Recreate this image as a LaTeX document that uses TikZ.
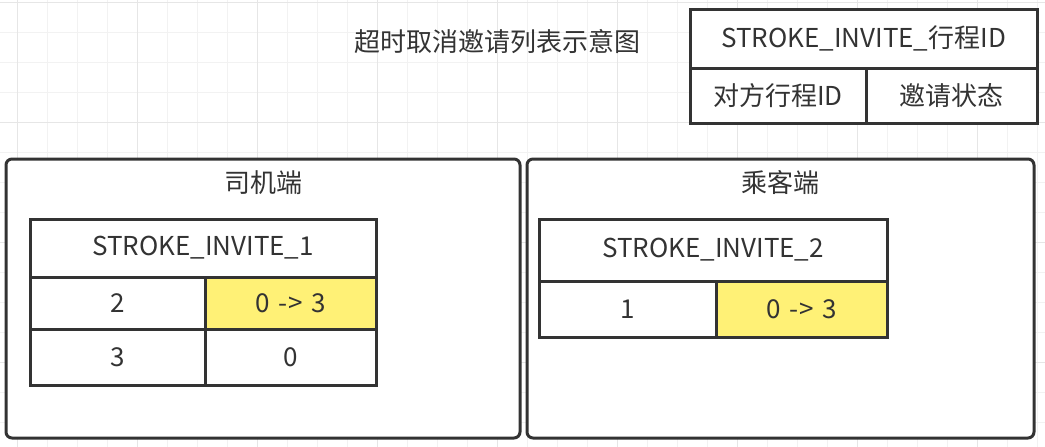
\documentclass[tikz,border=0pt]{standalone}
\usepackage{fontspec}
\setmainfont{Noto Sans CJK SC}
\definecolor{ink}{HTML}{333333}
\definecolor{hl}{HTML}{FFF176}
\definecolor{gridminor}{HTML}{F2F2F2}
\definecolor{gridmajor}{HTML}{E6E6E6}
\newcommand{\arrowtext}{0\hspace{0.32em}-\hspace{0.05em}>\hspace{0.32em}3}
\tikzset{
  cell/.style={draw=ink, line width=3pt, fill=white, inner sep=0pt, text=ink,
    font=\fontsize{26}{30}\selectfont},
  hlcell/.style={cell, fill=hl},
  container/.style={draw=ink, line width=3pt, fill=white, rounded corners=6pt},
  label/.style={text=ink, font=\fontsize{26}{30}\selectfont, inner sep=0pt},
}
\begin{document}
\begin{tikzpicture}[x=1pt,y=-1pt]
\useasboundingbox (0,0) rectangle (1045,447);
\fill[white] (0,0) rectangle (1045,447);
% grid
\foreach \x in {17,47,...,1045} \draw[gridminor, line width=1pt] (\x,0) -- (\x,447);
\foreach \y in {2,32,...,447} \draw[gridminor, line width=1pt] (0,\y) -- (1045,\y);
\foreach \x in {17,137,...,1045} \draw[gridmajor, line width=1pt] (\x,0) -- (\x,447);
\foreach \y in {2,122,...,447} \draw[gridmajor, line width=1pt] (0,\y) -- (1045,\y);
% title
\node[label] (title) at (497,42) {超时取消邀请列表示意图};
% legend table
\node[cell, minimum width=347pt, minimum height=59pt] (lh) at (863.5,38.5) {STROKE\_INVITE\_行程ID};
\node[cell, minimum width=176pt, minimum height=55pt] (la) at (778,95.5) {对方行程ID};
\node[cell, minimum width=171pt, minimum height=55pt] (lb) at (951.5,95.5) {邀请状态};
% containers
\draw[container] (6,159) rectangle (520,438);
\draw[container] (527,159) rectangle (1034,438);
\node[label] (driver) at (263,183) {司机端};
\node[label] (passenger) at (780.5,183) {乘客端};
% driver table
\node[cell, minimum width=346pt, minimum height=58pt] (dh) at (203,248) {STROKE\_INVITE\_1};
\node[cell, minimum width=175pt, minimum height=52pt] (d1a) at (117.5,303) {2};
\node[hlcell, minimum width=171pt, minimum height=52pt] (d1b) at (290.5,303) {\arrowtext};
\node[cell, minimum width=175pt, minimum height=56pt] (d2a) at (117.5,357) {3};
\node[cell, minimum width=171pt, minimum height=56pt] (d2b) at (290.5,357) {0};
% passenger table
\node[cell, minimum width=348pt, minimum height=62pt] (ph) at (713,250) {STROKE\_INVITE\_2};
\node[cell, minimum width=177pt, minimum height=56pt] (p1a) at (627.5,309) {1};
\node[hlcell, minimum width=171pt, minimum height=56pt] (p1b) at (801.5,309) {\arrowtext};
\end{tikzpicture}
\end{document}
